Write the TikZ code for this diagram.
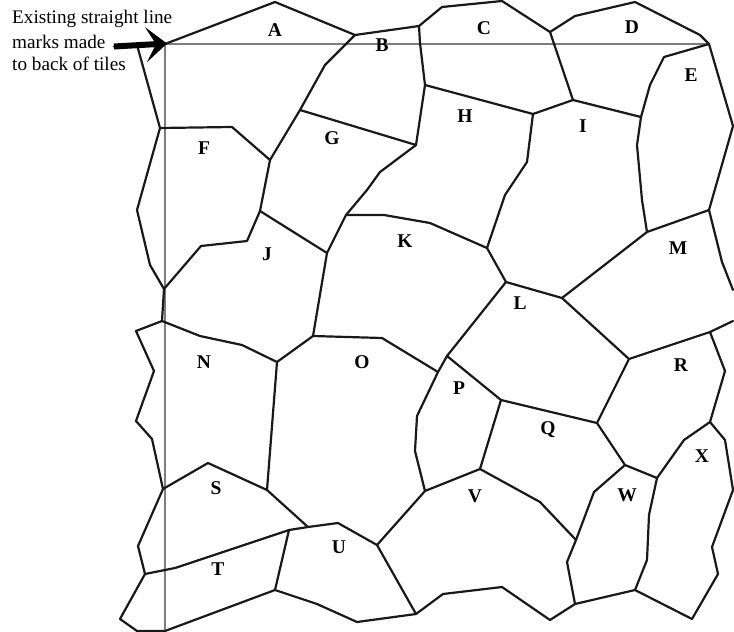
\documentclass[tikz,border=0pt]{standalone}
\usepackage{fontspec}
\setmainfont{Liberation Serif}
\usetikzlibrary{arrows.meta}
\definecolor{MarkLine}{RGB}{125,125,125}
\definecolor{TileLine}{RGB}{25,25,25}
\tikzset{
  tile/.style={draw=TileLine,line width=2.2pt,line join=round,line cap=round},
  markline/.style={draw=MarkLine,line width=1.2pt},
  tag/.style={font=\fontsize{19.5}{20}\selectfont\bfseries,inner sep=0pt},
  note/.style={font=\fontsize{19.2}{20}\selectfont,anchor=base west,inner sep=0pt},
  pointer/.style={-{Stealth[length=21pt,width=35pt,inset=10pt]},line width=6pt,black},
}
\begin{document}
\begin{tikzpicture}[x=1pt,y=-1pt]

\useasboundingbox (0,0) rectangle (734,632);

% junctions
\coordinate (c0) at (165,44);
\coordinate (c1) at (709,44);
\coordinate (c2) at (165,631);
\coordinate (tail) at (114,46.5);
\coordinate (ab) at (355,35);
\coordinate (bc) at (419,26);
\coordinate (cd) at (550,32);
\coordinate (fg) at (270,160);
\coordinate (fl) at (160,128);
\coordinate (jn) at (164,289);
\coordinate (jk) at (260,211);
\coordinate (kg) at (327,253);
\coordinate (kt) at (346,215);
\coordinate (gh) at (300,110);
\coordinate (hg) at (416,145);
\coordinate (hb) at (425,85);
\coordinate (hi) at (533,114);
\coordinate (ci) at (573,100);
\coordinate (ie) at (641,117);
\coordinate (kl) at (487,248);
\coordinate (em) at (647,232);
\coordinate (mr) at (709,210);
\coordinate (lt) at (506,282);
\coordinate (lm) at (562,298);
\coordinate (lp) at (447,356);
\coordinate (rl) at (629,359);
\coordinate (rt) at (710,332);
\coordinate (rx) at (710,422);
\coordinate (wx) at (657,478);
\coordinate (qw) at (625,465);
\coordinate (qr) at (597,423);
\coordinate (pq) at (501,400);
\coordinate (pv) at (480,469);
\coordinate (vp) at (425,491);
\coordinate (vw) at (576,540);
\coordinate (wb) at (575,604);
\coordinate (xb) at (635,590);
\coordinate (op) at (438,372);
\coordinate (ok) at (313,336);
\coordinate (no) at (277,362);
\coordinate (nl) at (162,321);
\coordinate (ns) at (163,489);
\coordinate (so) at (267,490);
\coordinate (su) at (308,527);
\coordinate (tu) at (289,530);
\coordinate (ut) at (275,590);
\coordinate (tl) at (145,574);
\coordinate (uv) at (377,545);
\coordinate (ub) at (416,614);

% straight line marks
\draw[markline] (c2) -- (c0) -- (c1);

% top row
\draw[tile] (tail) -- (c0) -- (275,2) -- (ab) -- (bc) -- (442,7) -- (502,1) -- (cd) -- (575,16) -- (635,2) -- (700,35) -- (c1);
\draw[tile] (ab) -- (325,65) -- (gh) -- (fg);
\draw[tile] (137,45) -- (fl) -- (232,127) -- (fg);
\draw[tile] (fl) -- (137,210) -- (150,265) -- (jn) -- (nl);
\draw[tile] (fg) -- (jk) -- (247,241) -- (201,246) -- (jn);
\draw[tile] (jk) -- (kg) -- (kt) -- (367,190) -- (380,172) -- (hg);
\draw[tile] (gh) -- (hg) -- (hb) -- (420,43) -- (bc);
\draw[tile] (hb) -- (hi) -- (ci) -- (ie);
\draw[tile] (cd) -- (ci);
\draw[tile] (hi) -- (527,162) -- (505,195) -- (kl);
\draw[tile] (kt) -- (384,215) -- (430,223) -- (kl) -- (lt) -- (lm);

% right side
\draw[tile] (c1) -- (664,57) -- (650,85) -- (ie) -- (637,145) -- (642,200) -- (em);
\draw[tile] (c1) -- (733,126) -- (mr) -- (722,262) -- (733,290);
\draw[tile] (em) -- (mr);
\draw[tile] (em) -- (lm) -- (rl) -- (rt) -- (733,321);
\draw[tile] (lt) -- (lp);
\draw[tile] (rt) -- (725,371) -- (rx) -- (684,440) -- (wx);
\draw[tile] (rx) -- (725,440) -- (733,490) -- (712,547) -- (718,574) -- (692,619) -- (xb);
\draw[tile] (rl) -- (qr) -- (qw) -- (wx) -- (649,515) -- (647,560) -- (xb) -- (wb);
\draw[tile] (qw) -- (594,492) -- (vw) -- (567,562) -- (wb);
\draw[tile] (qr) -- (pq) -- (lp) -- (op) -- (417,416) -- (415,451) -- (vp);
\draw[tile] (pq) -- (pv) -- (vp);
\draw[tile] (pv) -- (540,502) -- (vw);

% middle and bottom
\draw[tile] (kg) -- (ok) -- (no);
\draw[tile] (ok) -- (382,338) -- (op);
\draw[tile] (nl) -- (200,336) -- (242,345) -- (no) -- (so);
\draw[tile] (nl) -- (136,331) -- (154,371) -- (136,421) -- (152,439) -- (ns);
\draw[tile] (ns) -- (208,463) -- (so) -- (su);
\draw[tile] (ns) -- (138,546) -- (tl) -- (175,568) -- (tu) -- (su) -- (338,523) -- (uv);
\draw[tile] (tu) -- (ut);
\draw[tile] (tl) -- (120,619) -- (137,631) -- (c2) -- (ut) -- (317,604) -- (357,622) -- (ub);
\draw[tile] (uv) -- (ub) -- (443,594) -- (502,587) -- (550,620) -- (wb);
\draw[tile] (uv) -- (vp);

% pointer and note
\draw[pointer] (tail) -- (167,43.5);
\node[note] (note1) at (12,23) {Existing straight line};
\node[note] (note2) at (12,48) {marks made};
\node[note] (note3) at (12,70) {to back of tiles};

% tile letters
\node[tag] (tagA) at (275,30) {A};
\node[tag] (tagB) at (382,45) {B};
\node[tag] (tagC) at (484,28) {C};
\node[tag] (tagD) at (632,27) {D};
\node[tag] (tagE) at (691,75) {E};
\node[tag] (tagF) at (204,148) {F};
\node[tag] (tagG) at (332,138) {G};
\node[tag] (tagH) at (465,116) {H};
\node[tag] (tagI) at (583,126) {I};
\node[tag] (tagJ) at (267,254) {J};
\node[tag] (tagK) at (405,241) {K};
\node[tag] (tagL) at (520,303) {L};
\node[tag] (tagM) at (678,248) {M};
\node[tag] (tagN) at (204,362) {N};
\node[tag] (tagO) at (362,362) {O};
\node[tag] (tagP) at (459,388) {P};
\node[tag] (tagQ) at (548,430) {Q};
\node[tag] (tagR) at (681,365) {R};
\node[tag] (tagS) at (216,488) {S};
\node[tag] (tagT) at (218,569) {T};
\node[tag] (tagU) at (339,547) {U};
\node[tag] (tagV) at (475,496) {V};
\node[tag] (tagW) at (627,495) {W};
\node[tag] (tagX) at (702,456) {X};

\end{tikzpicture}
\end{document}
